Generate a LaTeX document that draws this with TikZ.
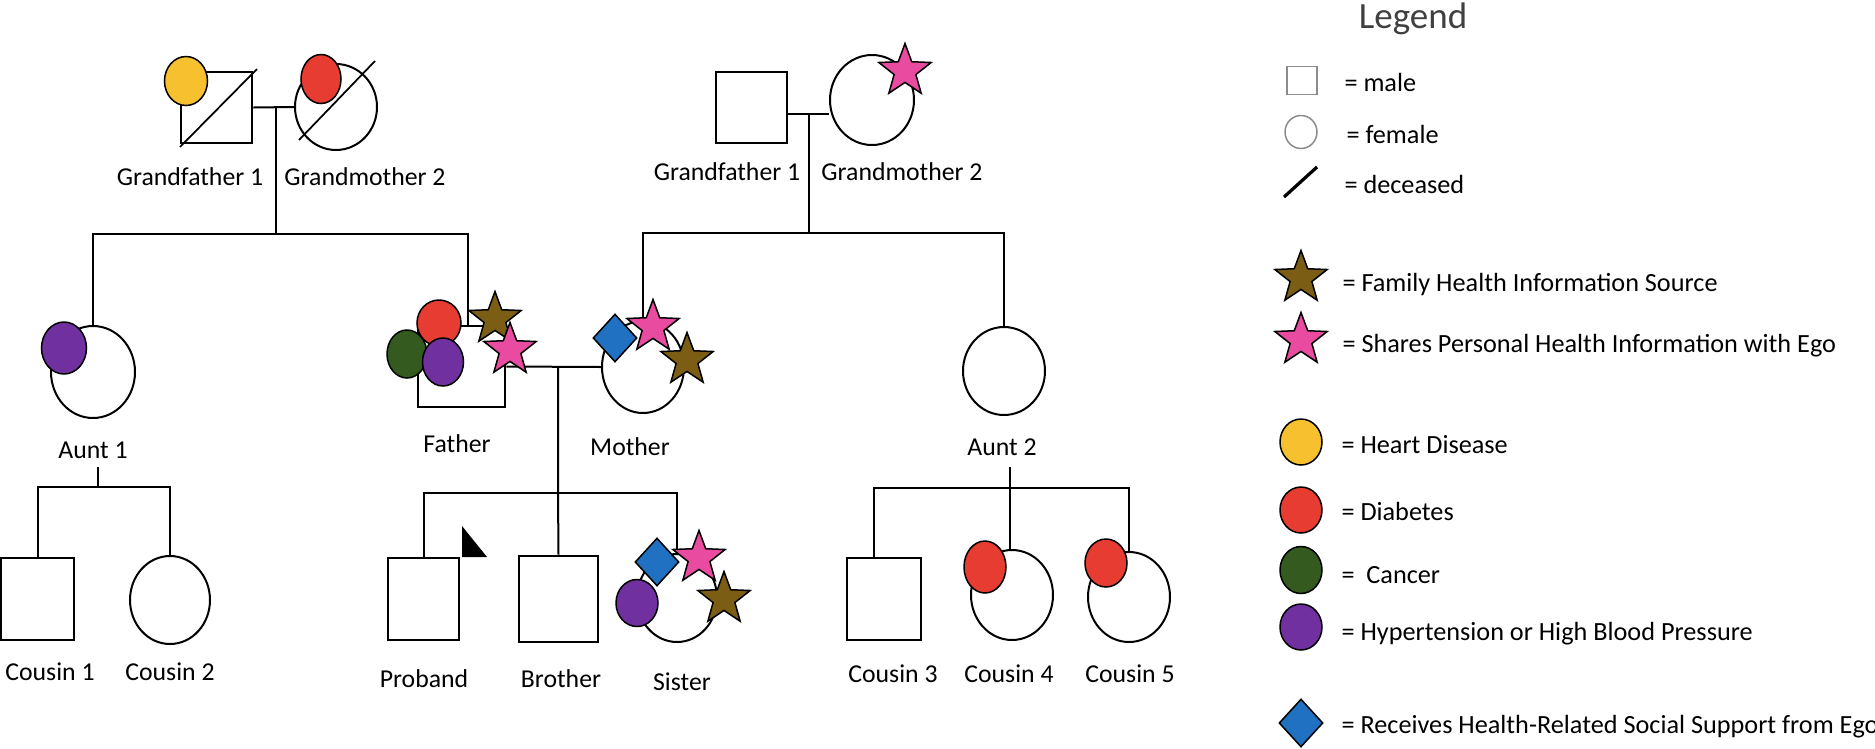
\documentclass[tikz,border=0pt]{standalone}
\usepackage{fontspec}
\setmainfont{Carlito}
\usetikzlibrary{shapes.geometric}
\newdimen\pxu \pxu=0.4pt
\definecolor{cyel}{HTML}{F6C02F}
\definecolor{cred}{HTML}{E63C32}
\definecolor{cgrn}{HTML}{355A1F}
\definecolor{cpur}{HTML}{7030A0}
\definecolor{cblu}{HTML}{2071C2}
\definecolor{cbrn}{HTML}{7B5E14}
\definecolor{cpnk}{HTML}{E94BA0}
\begin{document}
\begin{tikzpicture}[x=0.4pt,y=-0.4pt,
  font=\fontsize{10.3}{12}\selectfont,
  ln/.style={line width=0.8pt},
  male/.style={draw, line width=1.1pt, rectangle, inner sep=0pt, fill=white},
  fem/.style={draw, line width=0.8pt, ellipse, inner sep=0pt, fill=white},
  dis/.style={draw, line width=0.6pt, ellipse, inner sep=0pt, minimum width=43\pxu, minimum height=49\pxu},
  strb/.style={star, star points=5, star point ratio=2.4, draw, line width=0.6pt, inner sep=0pt, minimum size=55\pxu},
  dia/.style={diamond, draw, line width=0.6pt, inner sep=0pt, fill=cblu, minimum width=44\pxu, minimum height=48\pxu},
  lbl/.style={anchor=base, inner sep=0pt},
  leg/.style={anchor=base west, inner sep=0pt, font=\fontsize{10.5}{12}\selectfont},
  legshape/.style={draw=black!45, line width=0.6pt, inner sep=0pt, fill=white}]
\useasboundingbox (0,0) rectangle (1875,748);

% ---------- pedigree persons ----------
\node[male, minimum width=71\pxu, minimum height=71\pxu] (gfL) at (216.5,107.5) {};
\node[fem, minimum width=82\pxu, minimum height=86\pxu] (gmL) at (336,107) {};
\node[male, minimum width=71\pxu, minimum height=71\pxu] (gfR) at (751.5,107.5) {};
\node[fem, minimum width=84\pxu, minimum height=90\pxu] (gmR) at (872,100) {};
\node[fem, minimum width=84\pxu, minimum height=92\pxu] (aunt1) at (93,372) {};
\node[male, minimum width=87\pxu, minimum height=81\pxu] (father) at (461.5,366.5) {};
\node[fem, minimum width=82\pxu, minimum height=92\pxu] (mother) at (643,367) {};
\node[fem, minimum width=82\pxu, minimum height=88\pxu] (aunt2) at (1004,371) {};
\node[male, minimum width=73\pxu, minimum height=82\pxu] (cous1) at (37.5,599) {};
\node[fem, minimum width=80\pxu, minimum height=88\pxu] (cous2) at (170,600) {};
\node[male, minimum width=71\pxu, minimum height=82\pxu] (proband) at (423.5,599) {};
\node[male, minimum width=79\pxu, minimum height=86\pxu] (brother) at (558.5,599) {};
\node[fem, minimum width=80\pxu, minimum height=88\pxu] (sister) at (677,598) {};
\node[male, minimum width=74\pxu, minimum height=82\pxu] (cous3) at (884,599) {};
\node[fem, minimum width=82\pxu, minimum height=90\pxu] (cous4) at (1012,595) {};
\node[fem, minimum width=82\pxu, minimum height=90\pxu] (cous5) at (1129,597) {};

% ---------- labels ----------
\node[lbl] (lgfL) at (190,185) {Grandfather 1};
\node[lbl] (lgmL) at (365,185) {Grandmother 2};
\node[lbl] (lgfR) at (727,180) {Grandfather 1};
\node[lbl] (lgmR) at (902,180) {Grandmother 2};
\node[lbl] (launt1) at (93,458) {Aunt 1};
\node[lbl] (lfather) at (457,452) {Father};
\node[lbl] (lmother) at (630,455) {Mother};
\node[lbl] (launt2) at (1002,455) {Aunt 2};
\node[lbl] (lc1) at (50,680) {Cousin 1};
\node[lbl] (lc2) at (170,680) {Cousin 2};
\node[lbl] (lprob) at (424,687) {Proband};
\node[lbl] (lbro) at (561,687) {Brother};
\node[lbl] (lsis) at (682,690) {Sister};
\node[lbl] (lc3) at (893,682) {Cousin 3};
\node[lbl] (lc4) at (1009,682) {Cousin 4};
\node[lbl] (lc5) at (1130,682) {Cousin 5};

% ---------- connectors ----------
\coordinate (jL) at (276,108);
\coordinate (sL) at (276,234);
\coordinate (fdrop) at (468,326);
\draw[ln] (gfL.east) -- (gmL.west);
\draw[ln] (jL) -- (sL);
\draw[ln] (aunt1.north) -- (aunt1.north |- sL) -- (fdrop |- sL) -- (fdrop);

\coordinate (jR) at (809,114);
\coordinate (sR) at (809,233);
\draw[ln] (gfR.east |- jR) -- (gmR.west |- jR);
\draw[ln] (jR) -- (sR);
\draw[ln] (mother.north) -- (mother.north |- sR) -- (aunt2.north |- sR) -- (aunt2.north);

\coordinate (jP) at (558,367);
\coordinate (sP) at (558,493);
\draw[ln] (father.east) -- (mother.west);
\draw[ln] (jP) -- (sP) -- (brother.north);
\draw[ln] (proband.north) -- (proband.north |- sP) -- (sister.north |- sP) -- (sister.north);

\coordinate (a1s) at (98,467);
\coordinate (a1j) at (98,487);
\draw[ln] (a1s) -- (a1j);
\draw[ln] (cous1.north) -- (cous1.north |- a1j) -- (cous2.north |- a1j) -- (cous2.north);

\coordinate (a2s) at (1010,467);
\coordinate (a2j) at (1010,488);
\coordinate (c3d) at (874,558);
\draw[ln] (a2s) -- (a2s |- cous4.north);
\draw[ln] (c3d) -- (c3d |- a2j) -- (cous5.north |- a2j) -- (cous5.north);

% proband arrow
\fill (462,526) -- (462,557) -- (487,557) -- cycle;

% ---------- disease markers ----------
\node[dis, fill=cyel] (d1) at (186,81) {};
\node[dis, fill=cred, minimum width=40\pxu] (d2) at (321,79) {};
\node[dis, fill=cpur, minimum width=45\pxu, minimum height=52\pxu] (d3) at (64,348) {};
\node[dis, fill=cgrn, minimum width=40\pxu, minimum height=48\pxu] (d4) at (407,354) {};
\node[dis, fill=cred, minimum width=44\pxu, minimum height=46\pxu] (d5) at (439,323) {};
\node[dis, fill=cpur, minimum width=41\pxu, minimum height=48\pxu] (d6) at (443,362) {};
\node[dis, fill=cpur, minimum width=42\pxu, minimum height=47\pxu] (d7) at (637,603) {};
\node[dis, fill=cred, minimum width=42\pxu, minimum height=52\pxu] (d8) at (985,567) {};
\node[dis, fill=cred, minimum width=42\pxu, minimum height=48\pxu] (d9) at (1106,563) {};

% deceased slashes
\draw[line width=0.7pt] (180,147) -- (257,69);
\draw[line width=0.7pt] (299,140) -- (375,61);

% ---------- stars and diamonds ----------
\node[strb, fill=cpnk] (s1) at (905,71) {};
\node[strb, fill=cbrn] (s2) at (495,319) {};
\node[strb, fill=cpnk] (s3) at (510,350) {};
\node[dia] (m1) at (615,338) {};
\node[strb, fill=cpnk] (s4) at (653,327) {};
\node[strb, fill=cbrn] (s5) at (687,360) {};
\node[dia] (m2) at (657,562) {};
\node[strb, fill=cpnk] (s6) at (699,558) {};
\node[strb, fill=cbrn] (s7) at (724,599) {};

% ---------- legend ----------
\node[anchor=base, inner sep=0pt, text=black!75, font=\fontsize{14.8}{16}\selectfont] (ltitle) at (1413,28) {Legend};
\node[legshape, minimum width=30\pxu, minimum height=28\pxu] (kmale) at (1302,80.5) {};
\node[leg] (tmale) at (1344,91) {= male};
\node[legshape, ellipse, minimum width=32\pxu, minimum height=33\pxu] (kfem) at (1301,132) {};
\node[leg] (tfem) at (1346,143) {= female};
\draw[line width=1.3pt] (1284,197) -- (1317,167);
\node[leg] (tdec) at (1344,193) {= deceased};
\node[strb, fill=cbrn] (ksrc) at (1301,278) {};
\node[leg] (tsrc) at (1342,291) {= Family Health Information Source};
\node[strb, fill=cpnk] (kshr) at (1301,340) {};
\node[leg] (tshr) at (1342,352) {= Shares Personal Health Information with Ego};
\node[dis, fill=cyel, minimum width=42\pxu, minimum height=46\pxu] (khd) at (1301,442) {};
\node[leg] (thd) at (1341,453) {= Heart Disease};
\node[dis, fill=cred, minimum width=42\pxu, minimum height=46\pxu] (kdb) at (1301,510) {};
\node[leg] (tdb) at (1341,520) {= Diabetes};
\node[dis, fill=cgrn, minimum width=42\pxu, minimum height=47\pxu] (kca) at (1301,570) {};
\node[leg] (tca) at (1341,583) {= \ Cancer};
\node[dis, fill=cpur, minimum width=42\pxu, minimum height=46\pxu] (khbp) at (1301,627) {};
\node[leg] (thbp) at (1341,640) {= Hypertension or High Blood Pressure};
\node[dia] (ksup) at (1301,723) {};
\node[leg] (tsup) at (1341,733) {= Receives Health-Related Social Support from Ego};
\end{tikzpicture}
\end{document}
